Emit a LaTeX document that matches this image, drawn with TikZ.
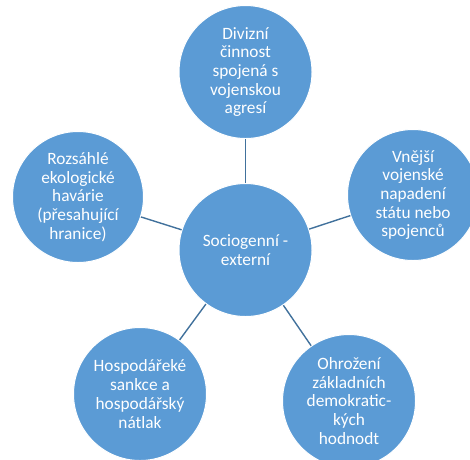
\documentclass[tikz,border=0pt]{standalone}
\usepackage{fontspec}
\setmainfont{Carlito}
\definecolor{bubblefill}{HTML}{5B9BD5}
\definecolor{linkcol}{HTML}{41719C}
\begin{document}
\begin{tikzpicture}[x=1pt,y=-1pt,
  bubble/.style={circle,fill=bubblefill,draw=white,line width=1pt,inner sep=0pt,minimum size=133pt},
  txt/.style={align=center,text=white,inner sep=0pt,font=\fontsize{17.3}{18.7}\selectfont},
  link/.style={draw=linkcol,line width=1.4pt}]
\useasboundingbox (0,0) rectangle (470,459);
\node[bubble] (c) at (245.5,250) {};
\node[bubble] (t) at (245.5,72) {};
\node[bubble,minimum size=131pt] (l) at (78,197) {};
\node[bubble,minimum size=131pt] (r) at (413,195) {};
\node[bubble] (bl) at (140,394) {};
\node[bubble] (br) at (349,401) {};
\node[txt] (ct) at (c) {Sociogenní -\\externí};
\node[txt] (tt) at (t) {Divizní\\činnost\\spojená s\\vojenskou\\agresí};
\node[txt] (lt) at (l) {Rozsáhlé\\ekologické\\havárie\\(přesahující\\hranice)};
\node[txt] (rt) at (r) {Vnější\\vojenské\\napadení\\státu nebo\\spojenců};
\node[txt] (blt) at (bl) {Hospodářeké\\sankce a\\hospodářský\\nátlak};
\node[txt] (brt) at (br) {Ohrožení\\základních\\demokratic-\\kých\\hodnodt};
\draw[link] (c) -- (t);
\draw[link] (c) -- (l);
\draw[link] (c) -- (r);
\draw[link] (c) -- (bl);
\draw[link] (c) -- (br);
\end{tikzpicture}
\end{document}
